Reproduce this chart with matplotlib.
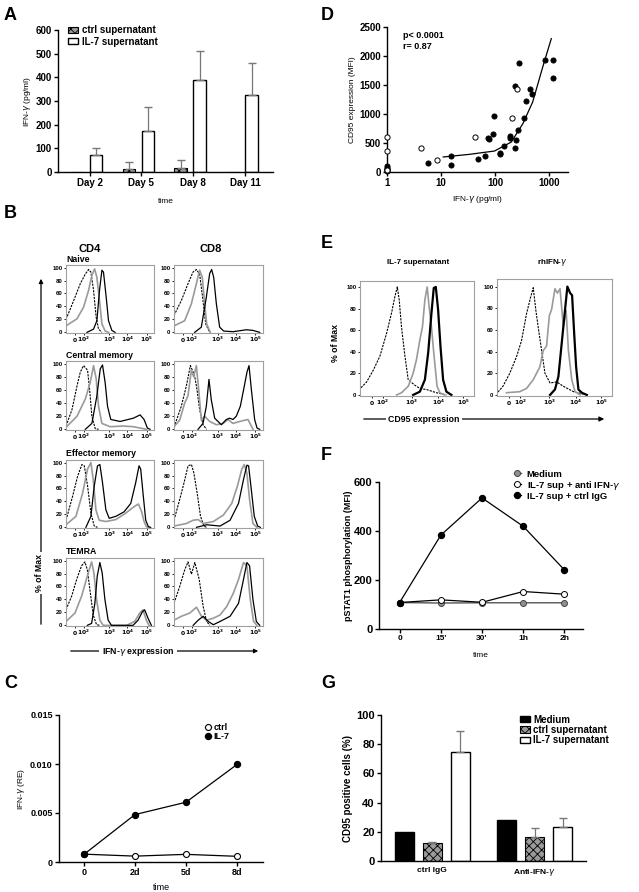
import numpy as np
import matplotlib
matplotlib.use('Agg')
import matplotlib.pyplot as plt
from matplotlib.ticker import NullLocator

plt.rcParams['font.family'] = ['Liberation Sans', 'DejaVu Sans']
plt.rcParams['hatch.linewidth'] = 0.6

W, H = 639, 892

# ---- panel A: IFN-g in supernatant
days = ['Day 2', 'Day 5', 'Day 8', 'Day 11']
a_ctrl = [0, 12, 15, 0]
a_ctrl_err = [0, 30, 37, 0]
a_il7 = [70, 175, 390, 325]
a_il7_err = [33, 100, 120, 135]

# ---- panel D: CD95 vs IFN-g scatter
d_filled_x = [1, 1, 1, 1, 1, 5.7, 15, 15, 49, 66, 74, 77, 92, 94, 122, 123, 146, 186, 190,
              233, 247, 230, 265, 273, 347, 377, 447, 473, 832, 1167, 1167]
d_filled_y = [20, 57, 98, 30, 75, 155, 120, 282, 224, 282, 592, 575, 661, 971, 328, 305, 448,
              615, 592, 414, 546, 1477, 718, 1879, 937, 1224, 1431, 1339, 1937, 1925, 1626]
d_open_x = [1, 1, 1, 4.3, 8.6, 42, 209, 257]
d_open_y = [603, 362, 40, 408, 201, 598, 937, 1437]
d_fit_x = [11, 34, 98, 200, 327, 497, 763, 1100]
d_fit_y = [259, 305, 362, 517, 833, 1207, 1810, 2300]

# ---- panel B: IFN-g histograms (channel, % of max)
b_ticks = [100, 200, 490, 695, 915]
naive_cd4_iso = [(0, 20), (87, 49), (162, 75), (219, 90), (257, 97), (283, 93), (313, 65), (343, 23), (370, 5), (408, 0)]
naive_cd4_gray = [(0, 10), (125, 21), (200, 39), (257, 65), (294, 88), (325, 98), (351, 85), (381, 49), (408, 13), (445, 2), (483, 0)]
naive_cd4_blk = [(238, 0), (313, 5), (351, 18), (381, 65), (408, 96), (426, 93), (457, 54), (483, 18), (521, 3), (558, 0)]
naive_cd8_iso = [(0, 26), (82, 49), (157, 75), (213, 93), (251, 97), (288, 90), (326, 49), (356, 13), (401, 0)]
naive_cd8_gray = [(0, 10), (120, 18), (195, 44), (251, 75), (288, 96), (318, 85), (341, 49), (367, 13), (408, 0)]
naive_cd8_blk = [(232, 0), (307, 8), (363, 54), (401, 91), (423, 97), (446, 85), (476, 44), (513, 8), (558, 2), (663, 1),
                 (813, 4), (888, 3), (963, 0)]
cm_cd4_iso = [(0, 5), (68, 30), (125, 66), (162, 87), (200, 97), (245, 90), (268, 61), (294, 20), (332, 1), (370, 0)]
cm_cd4_gray = [(0, 3), (125, 20), (219, 46), (275, 71), (313, 97), (343, 77), (370, 35), (408, 9), (502, 4), (653, 5),
               (766, 4), (879, 1), (915, 0)]
cm_cd4_blk = [(219, 0), (294, 9), (351, 51), (389, 92), (415, 98), (445, 71), (472, 35), (509, 15), (615, 12), (766, 17),
              (842, 22), (887, 15), (925, 2), (955, 0)]
cm_cd8_iso = [(0, 3), (82, 35), (139, 66), (184, 97), (206, 90), (232, 81), (258, 61), (288, 30), (326, 7), (366, 0)]
cm_cd8_gray = [(0, 4), (64, 14), (120, 40), (157, 51), (195, 90), (221, 80), (251, 97), (277, 61), (307, 14), (345, 20),
               (401, 12), (476, 7), (551, 9), (607, 15), (663, 9), (738, 12), (831, 15), (888, 0)]
cm_cd8_blk = [(270, 0), (326, 9), (363, 35), (393, 76), (419, 45), (457, 17), (532, 7), (588, 15), (626, 17), (663, 15),
              (700, 20), (745, 35), (783, 61), (820, 87), (843, 97), (869, 61), (906, 15), (933, 2), (963, 0)]
em_cd4_iso = [(0, 11), (75, 48), (132, 79), (181, 97), (208, 95), (245, 64), (283, 22), (321, 2), (358, 0)]
em_cd4_gray = [(0, 4), (113, 17), (189, 53), (245, 90), (283, 100), (309, 74), (340, 27), (377, 11), (453, 9), (566, 12),
               (679, 22), (774, 32), (823, 36), (860, 24), (887, 9), (913, 1), (943, 0)]
em_cd4_blk = [(226, 0), (283, 17), (321, 64), (358, 95), (385, 97), (415, 69), (453, 27), (491, 14), (566, 17), (660, 24),
              (736, 37), (792, 69), (830, 95), (849, 90), (875, 53), (906, 11), (936, 1), (962, 0)]
em_cd8_iso = [(0, 11), (64, 43), (113, 69), (158, 95), (196, 97), (223, 84), (260, 53), (298, 17), (336, 2), (366, 0)]
em_cd8_gray = [(0, 2), (140, 6), (215, 11), (272, 12), (328, 6), (442, 9), (555, 19), (649, 37), (713, 64), (762, 90),
               (789, 97), (819, 84), (849, 43), (887, 6), (932, 0)]
em_cd8_blk = [(253, 0), (366, 4), (517, 2), (630, 11), (725, 37), (781, 74), (819, 96), (838, 95), (864, 64), (902, 17),
              (940, 2), (970, 0)]
temra_cd4_iso = [(0, 24), (64, 45), (121, 71), (177, 92), (215, 98), (242, 86), (272, 55), (309, 16), (347, 1), (385, 0)]
temra_cd4_gray = [(0, 6), (102, 19), (177, 45), (242, 76), (291, 98), (317, 81), (347, 40), (385, 8), (423, 0), (687, 0),
                  (781, 6), (838, 19), (875, 24), (913, 8), (943, 0)]
temra_cd4_blk = [(242, 0), (291, 3), (328, 34), (355, 76), (385, 97), (411, 81), (442, 40), (479, 8), (517, 0), (762, 0),
                 (819, 8), (868, 21), (894, 24), (932, 11), (970, 0)]
temra_cd8_iso = [(0, 34), (64, 60), (121, 86), (158, 98), (196, 79), (234, 97), (283, 71), (328, 29), (366, 6), (404, 0)]
temra_cd8_gray = [(0, 8), (83, 14), (177, 19), (253, 28), (309, 14), (366, 8), (442, 11), (517, 16), (592, 29), (668, 50),
                  (725, 71), (781, 97), (819, 92), (857, 40), (894, 6), (932, 0)]
temra_cd8_blk = [(215, 0), (272, 8), (328, 14), (385, 6), (442, 1), (517, 6), (630, 14), (725, 34), (781, 71), (819, 97),
                 (849, 92), (887, 40), (925, 6), (963, 0)]

# ---- panel E: CD95 histograms
e_ticks = [105, 200, 455, 685, 905]
il7_iso = [(0, 36), (3, 6), (58, 12), (117, 23), (175, 36), (233, 57), (277, 76), (306, 91), (327, 100), (344, 88),
           (364, 63), (394, 36), (423, 14), (481, 9), (525, 6), (583, 5), (671, 2), (758, 0)]
il7_gray = [(321, 0), (364, 2), (423, 8), (466, 20), (496, 33), (525, 51), (548, 63), (569, 88), (589, 100), (606, 82),
            (627, 63), (647, 39), (676, 8), (700, 2), (743, 0)]
il7_blk = [(466, 0), (525, 3), (569, 14), (598, 39), (627, 76), (647, 99), (665, 100), (685, 79), (706, 45), (729, 14),
           (758, 3), (802, 0)]
rh_iso = [(0, 35), (3, 2), (52, 8), (111, 20), (169, 35), (213, 50), (257, 75), (292, 90), (315, 99), (338, 78),
          (359, 62), (388, 41), (417, 20), (461, 11), (519, 12), (577, 8), (665, 3), (781, 0)]
rh_gray = [(82, 2), (198, 3), (257, 6), (315, 14), (373, 26), (402, 41), (431, 45), (455, 73), (475, 79), (504, 98),
           (525, 94), (548, 98), (577, 63), (601, 78), (621, 41), (650, 14), (679, 3), (723, 0)]
rh_blk = [(461, 0), (504, 5), (534, 17), (563, 48), (592, 79), (612, 100), (636, 94), (653, 92), (671, 57), (688, 26),
          (708, 5), (738, 2), (781, 0)]

# ---- panel F: pSTAT1 time course
f_times = ['0', "15'", "30'", '1h', '2h']
f_medium = [108, 106, 107, 107, 107]
f_anti = [108, 119, 109, 153, 142]
f_igg = [108, 383, 535, 419, 241]

# ---- panel C: IFN-g mRNA
c_times = ['0', '2d', '5d', '8d']
c_ctrl = [0.0008, 0.0006, 0.00078, 0.00058]
c_il7 = [0.00078, 0.00484, 0.0061, 0.00995]

# ---- panel G: CD95 positive cells
g_groups = ['ctrl IgG', 'Anti-IFN-$\\gamma$']
g_medium = [20, 28]
g_ctrl = [12, 16.5]
g_ctrl_err = [0.8, 6]
g_il7 = [75, 23.5]
g_il7_err = [14.3, 5.7]

fig = plt.figure(figsize=(W / 100, H / 100), dpi=100)

ov = fig.add_axes([0, 0, 1, 1], zorder=10)
ov.set_xlim(0, W)
ov.set_ylim(H, 0)
ov.axis('off')


def px_axes(l, t, r, b):
    return fig.add_axes([l / W, 1 - b / H, (r - l) / W, (b - t) / H])


def prism(ax, fs=7):
    for s in ['top', 'right']:
        ax.spines[s].set_visible(False)
    for s in ['left', 'bottom']:
        ax.spines[s].set_linewidth(1.0)
    ax.tick_params(direction='out', length=3, width=1, labelsize=fs, pad=1.5)
    for lb in ax.get_xticklabels() + ax.get_yticklabels():
        lb.set_fontweight('bold')


def bold_ticks(ax):
    for lb in ax.get_xticklabels() + ax.get_yticklabels():
        lb.set_fontweight('bold')


# panel letters
for letter, x, y in [('A', 4, 15), ('D', 321, 15), ('B', 4, 214), ('E', 321, 243), ('F', 321, 455),
                     ('C', 4, 683), ('G', 321, 683)]:
    ov.text(x, y, letter, fontsize=13, fontweight='bold', va='center', ha='left')

# ---------------- A
ax = px_axes(58, 30, 273, 172)
x = np.arange(len(days))
bw = 0.24
ax.bar(x - 0.185, a_ctrl, bw, facecolor='#9a9a9a', edgecolor='black', hatch='xxxx', lw=0.8,
       label='ctrl supernatant')
ax.bar(x + 0.185, a_il7, bw, facecolor='white', edgecolor='black', lw=1.0, label='IL-7 supernatant')
idx = [i for i in range(len(days)) if a_ctrl[i] > 0]
ax.errorbar(x[idx] - 0.185, [a_ctrl[i] for i in idx], yerr=[[0] * len(idx), [a_ctrl_err[i] for i in idx]],
            fmt='none', ecolor='#777777', capsize=3, elinewidth=0.9, zorder=1)
ax.errorbar(x + 0.185, a_il7, yerr=[[0] * len(days), a_il7_err], fmt='none', ecolor='#777777', capsize=3,
            elinewidth=0.9, zorder=1)
ax.set_xlim(-0.55, 3.6)
ax.set_ylim(0, 600)
ax.set_yticks(range(0, 601, 100))
ax.set_xticks(x + 0.06)
ax.set_xticklabels(days)
ax.set_ylabel('IFN-$\\gamma$ (pg/ml)', fontsize=6, labelpad=2)
ax.set_xlabel('time', fontsize=6, labelpad=7)
prism(ax, 7)
ax.legend(loc='upper left', bbox_to_anchor=(0.03, 1.06), frameon=False, prop={'size': 7, 'weight': 'bold'},
          handlelength=1.0, handleheight=0.6, borderaxespad=0, labelspacing=0.15, handletextpad=0.4)

# ---------------- D
ax = px_axes(387, 27, 568, 172)
ax.set_xscale('log')
ax.plot(d_fit_x, d_fit_y, color='black', lw=0.9)
ax.scatter(d_filled_x, d_filled_y, s=14, facecolor='black', edgecolor='black', lw=0.6, clip_on=False, zorder=3)
ax.scatter(d_open_x, d_open_y, s=14, facecolor='white', edgecolor='black', lw=0.7, clip_on=False, zorder=3)
ax.set_xlim(1, 2240)
ax.set_ylim(0, 2500)
ax.set_xticks([1, 10, 100, 1000])
ax.set_xticklabels(['1', '10', '100', '1000'])
ax.xaxis.set_minor_locator(NullLocator())
ax.set_yticks(range(0, 2501, 500))
ax.set_ylabel('CD95 expression (MFI)', fontsize=6, labelpad=2)
ax.set_xlabel('IFN-$\\gamma$ (pg/ml)', fontsize=6, labelpad=4)
prism(ax, 7)
ax.text(0.09, 0.97, 'p< 0.0001\nr= 0.87', transform=ax.transAxes, fontsize=6.5, fontweight='bold', va='top',
        linespacing=1.2)

# ---------------- B
flow_ticklabels = ['$\\mathbf{0}$', '$\\mathbf{10^2}$', '$\\mathbf{10^3}$', '$\\mathbf{10^4}$', '$\\mathbf{10^5}$']
iso_style = dict(color='black', lw=0.8, ls=(0, (2.0, 1.0)))
gray_style = dict(color='#9a9a9a', lw=1.2)
blk_style = dict(color='black', lw=0.9)


def flow_axes(ax, curves, ticks, ytop=104, thick=False):
    styles = [iso_style, gray_style, dict(blk_style, lw=1.6) if thick else blk_style]
    for pts, st in zip(curves, styles):
        xs, ys = zip(*pts)
        ax.plot(xs, ys, **st)
    ax.set_xlim(0, 1000)
    ax.set_ylim(-1, ytop)
    ax.set_yticks(range(0, 101, 20))
    ax.set_xticks(ticks)
    ax.set_xticklabels(flow_ticklabels, va='baseline')
    for s in ax.spines.values():
        s.set_color('#a0a0a0')
        s.set_linewidth(0.8)
    ax.tick_params(direction='out', length=1.5, width=0.6, labelsize=4.3, pad=1)
    ax.tick_params(axis='x', pad=5)
    bold_ticks(ax)


rows = [('Naive', 265, 333, [naive_cd4_iso, naive_cd4_gray, naive_cd4_blk], [naive_cd8_iso, naive_cd8_gray, naive_cd8_blk]),
        ('Central memory', 361, 430, [cm_cd4_iso, cm_cd4_gray, cm_cd4_blk], [cm_cd8_iso, cm_cd8_gray, cm_cd8_blk]),
        ('Effector memory', 460, 528, [em_cd4_iso, em_cd4_gray, em_cd4_blk], [em_cd8_iso, em_cd8_gray, em_cd8_blk]),
        ('TEMRA', 558, 626, [temra_cd4_iso, temra_cd4_gray, temra_cd4_blk],
         [temra_cd8_iso, temra_cd8_gray, temra_cd8_blk])]
for name, t, b, cd4, cd8 in rows:
    flow_axes(px_axes(66, t, 154, b), cd4, b_ticks)
    flow_axes(px_axes(174, t, 263, b), cd8, b_ticks)
    ov.text(66, t - 6, name, fontsize=6.3, fontweight='bold', ha='left', va='center')
ov.text(90, 249, 'CD4', fontsize=8, fontweight='bold', ha='center', va='center')
ov.text(211, 249, 'CD8', fontsize=8, fontweight='bold', ha='center', va='center')
ov.annotate('', xy=(41, 276), xytext=(41, 627),
            arrowprops=dict(arrowstyle='-|>', lw=0.9, color='black', mutation_scale=6))
ov.text(39, 573, '% of Max', rotation=90, fontsize=6.3, fontweight='bold', ha='center', va='center',
        bbox=dict(facecolor='white', edgecolor='none', pad=1.5))
ov.annotate('', xy=(261, 651), xytext=(68, 651),
            arrowprops=dict(arrowstyle='-|>', lw=0.9, color='black', mutation_scale=6))
ov.text(138, 651, 'IFN-$\\gamma$ expression', fontsize=6.3, fontweight='bold', ha='center', va='center',
        bbox=dict(facecolor='white', edgecolor='none', pad=2))

# ---------------- E
flow_axes(px_axes(360, 281, 474, 396), [il7_iso, il7_gray, il7_blk], e_ticks, ytop=105.5, thick=True)
flow_axes(px_axes(497, 279, 612, 396), [rh_iso, rh_gray, rh_blk], e_ticks, ytop=107, thick=True)
ov.text(418, 262, 'IL-7 supernatant', fontsize=5.8, fontweight='bold', ha='center', va='center')
ov.text(552, 262, 'rhIFN-$\\gamma$', fontsize=5.8, fontweight='bold', ha='center', va='center')
ov.text(335, 343, '% of Max', rotation=90, fontsize=6.3, fontweight='bold', ha='center', va='center')
ov.annotate('', xy=(607, 419), xytext=(361, 419),
            arrowprops=dict(arrowstyle='-|>', lw=0.9, color='black', mutation_scale=7))
ov.text(424, 419, 'CD95 expression', fontsize=6.3, fontweight='bold', ha='center', va='center',
        bbox=dict(facecolor='white', edgecolor='none', pad=2))

# ---------------- F
ax = px_axes(379, 482, 583, 629)
xf = np.arange(len(f_times))
ax.plot(xf, f_medium, color='#555555', lw=1.0, marker='o', ms=4.3, mfc='#909090', mec='#444444', mew=0.7,
        label='Medium', clip_on=False)
ax.plot(xf, f_anti, color='black', lw=0.9, marker='o', ms=4.3, mfc='white', mec='black', mew=0.7,
        label='IL-7 sup + anti IFN-$\\gamma$', clip_on=False)
ax.plot(xf, f_igg, color='black', lw=0.9, marker='o', ms=4.3, mfc='black', mec='black',
        label='IL-7 sup + ctrl IgG', clip_on=False)
ax.set_xlim(-0.5, 4.45)
ax.set_ylim(0, 600)
ax.set_yticks([0, 200, 400, 600])
ax.set_xticks(xf)
ax.set_xticklabels(f_times)
ax.set_ylabel('pSTAT1 phosphorylation (MFI)', fontsize=6.5, fontweight='bold', labelpad=1)
ax.set_xlabel('time', fontsize=6, labelpad=7)
prism(ax, 8)
ax.tick_params(axis='x', labelsize=6)
ax.legend(loc='upper right', bbox_to_anchor=(1.2, 1.11), frameon=False, prop={'size': 6.8, 'weight': 'bold'},
          handlelength=0.8, borderaxespad=0, labelspacing=0.0, handletextpad=0.6)

# ---------------- C
ax = px_axes(59, 715, 263, 862)
xc = np.arange(len(c_times))
ax.plot(xc, c_ctrl, color='black', lw=0.9, marker='o', ms=4.3, mfc='white', mec='black', mew=0.8, label='ctrl',
        clip_on=False)
ax.plot(xc, c_il7, color='black', lw=0.9, marker='o', ms=4.3, mfc='black', mec='black', label='IL-7', clip_on=False)
ax.set_xlim(-0.49, 3.51)
ax.set_ylim(0, 0.015)
ax.set_yticks([0, 0.005, 0.010, 0.015])
ax.set_yticklabels(['0', '0.005', '0.010', '0.015'])
ax.set_xticks(xc)
ax.set_xticklabels(c_times)
ax.set_ylabel('IFN-$\\gamma$ (RE)', fontsize=6, labelpad=2)
ax.set_xlabel('time', fontsize=6.5, labelpad=4)
prism(ax, 6.5)
ax.legend(loc='upper left', bbox_to_anchor=(0.7, 0.97), frameon=False, prop={'size': 6.5, 'weight': 'bold'},
          handlelength=0.6, borderaxespad=0, labelspacing=0.05, handletextpad=0.3)

# ---------------- G
ax = px_axes(381, 715, 586, 861)
xg = np.arange(len(g_groups))
gw = 0.185
ax.bar(xg - 0.272, g_medium, gw, facecolor='black', edgecolor='black', label='Medium')
ax.bar(xg, g_ctrl, gw, facecolor='#9a9a9a', edgecolor='black', hatch='xxxx', lw=0.8, label='ctrl supernatant')
ax.bar(xg + 0.272, g_il7, gw, facecolor='white', edgecolor='black', lw=1.0, label='IL-7 supernatant')
ax.errorbar(xg, g_ctrl, yerr=[[0, 0], g_ctrl_err], fmt='none', ecolor='#777777', capsize=3, elinewidth=0.9,
            zorder=1)
ax.errorbar(xg + 0.272, g_il7, yerr=[[0, 0], g_il7_err], fmt='none', ecolor='#777777', capsize=3, elinewidth=0.9,
            zorder=1)
ax.set_xlim(-0.5, 1.5)
ax.set_ylim(0, 100)
ax.set_yticks(range(0, 101, 20))
ax.set_xticks(xg)
ax.set_xticklabels(g_groups)
ax.set_ylabel('CD95 positive cells (%)', fontsize=7, fontweight='bold', labelpad=2)
prism(ax, 8)
ax.tick_params(axis='x', labelsize=6, length=0, pad=4)
ax.legend(loc='upper right', bbox_to_anchor=(1.13, 1.03), frameon=False, prop={'size': 7, 'weight': 'bold'},
          handlelength=1.0, handleheight=0.6, borderaxespad=0, labelspacing=0.05, handletextpad=0.3)

fig.savefig('out.png', dpi=100)
